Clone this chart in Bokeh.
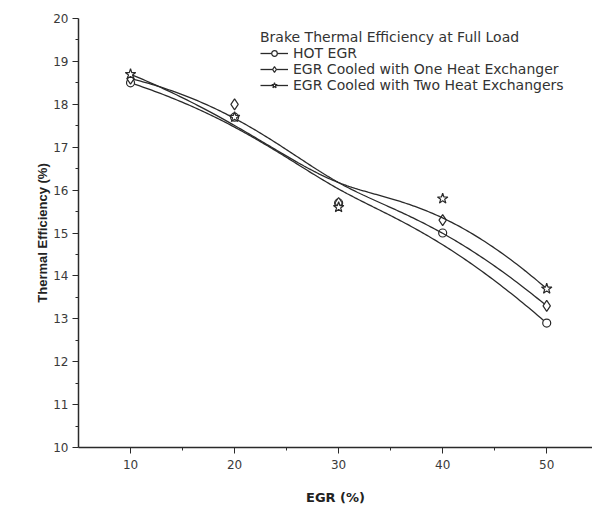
import numpy as np
from bokeh.plotting import figure
from bokeh.models import Range1d, Legend, LegendItem, FixedTicker
from bokeh.embed import file_html
from bokeh.resources import INLINE

# ---- data ----
egr = [10, 20, 30, 40, 50]
hot_egr = [18.5, 17.7, 15.7, 15.0, 12.9]
one_hx = [18.6, 18.0, 15.7, 15.3, 13.3]
two_hx = [18.7, 17.7, 15.6, 15.8, 13.7]
series_names = ["HOT EGR",
                "EGR Cooled with One Heat Exchanger",
                "EGR Cooled with Two Heat Exchangers"]
legend_title = "Brake Thermal Efficiency at Full Load"
x_ticks = [10, 20, 30, 40, 50]
y_ticks = list(range(10, 21))


def bspline(xs, ys, n=200, k=3):
    """Clamped uniform B-spline through control points (smoothed connection)."""
    P = np.column_stack([xs, ys]).astype(float)
    m = len(P)
    inner = np.linspace(0, 1, m - k + 1)
    knots = np.concatenate([[0.0] * k, inner, [1.0] * k])
    out = []
    for t in np.linspace(0, 1, n):
        s = m - 1 if t >= 1 else int(np.searchsorted(knots, t, side="right") - 1)
        d = [P[j + s - k].copy() for j in range(k + 1)]
        for r in range(1, k + 1):
            for j in range(k, r - 1, -1):
                i = j + s - k
                den = knots[j + 1 + s - r] - knots[i]
                a = 0.0 if den == 0 else (t - knots[i]) / den
                d[j] = (1 - a) * d[j - 1] + a * d[j]
        out.append(d[k])
    out = np.array(out)
    return out[:, 0], out[:, 1]


FONT = "DejaVu Sans"
INK = "#2a2a2a"

p = figure(width=592, height=513, output_backend="svg", toolbar_location=None,
           x_range=Range1d(5, 54.4), y_range=Range1d(10, 20),
           min_border_left=78, min_border_right=0, min_border_top=18,
           min_border_bottom=66)
p.outline_line_color = None
p.grid.visible = False
p.background_fill_color = "white"
p.border_fill_color = "white"

p.xaxis.ticker = FixedTicker(ticks=x_ticks, minor_ticks=[15, 25, 35, 45])
p.yaxis.ticker = FixedTicker(ticks=y_ticks, minor_ticks=[v + 0.5 for v in y_ticks[:-1]])
for ax in (p.xaxis, p.yaxis):
    ax.axis_line_color = INK
    ax.axis_line_width = 1.5
    ax.major_tick_line_color = INK
    ax.minor_tick_line_color = INK
    ax.major_tick_in = 0
    ax.major_tick_out = 6
    ax.minor_tick_in = 0
    ax.minor_tick_out = 3
    ax.major_label_text_font = FONT
    ax.major_label_text_font_size = "12px"
    ax.major_label_text_color = "#3a3a3a"
    ax.axis_label_text_font_style = "bold"
    ax.axis_label_text_font_size = "13px"
    ax.axis_label_text_color = "#222222"
p.xaxis.axis_label = "EGR (%)"
p.yaxis.axis_label = "Thermal Efficiency (%)"
p.xaxis.axis_label_text_font = "DejaVu Sans"
p.yaxis.axis_label_text_font = "Liberation Sans"
p.xaxis.axis_label_standoff = 18
p.yaxis.axis_label_standoff = 0
p.xaxis.major_label_standoff = 6
p.yaxis.major_label_standoff = 4

items = []
markers = ["circle", "diamond", "star"]
sizes = [8, 11, 11]
for name, ys, mk, sz in zip(series_names, [hot_egr, one_hx, two_hx], markers, sizes):
    cx, cy = bspline(egr, ys)
    lr = p.line(cx, cy, line_color=INK, line_width=1.3)
    sr = p.scatter(egr, ys, marker=mk, size=sz, line_color=INK, line_width=1.2,
                   fill_color="white")
    items.append(LegendItem(label=name, renderers=[lr, sr]))

legend = Legend(items=items, location=(182, 354), title=legend_title)
legend.title_text_font = FONT
legend.title_text_font_size = "14px"
legend.title_text_font_style = "normal"
legend.title_text_color = "#333333"
legend.title_standoff = 0
legend.label_text_font = FONT
legend.label_text_font_size = "14px"
legend.label_text_color = "#333333"
legend.label_height = 14
legend.glyph_height = 14
legend.glyph_width = 28
legend.label_standoff = 5
legend.spacing = 0
legend.padding = 2
legend.margin = 0
legend.border_line_color = None
legend.background_fill_alpha = 0
p.add_layout(legend)

open("out.html", "w").write(file_html(p, INLINE))
